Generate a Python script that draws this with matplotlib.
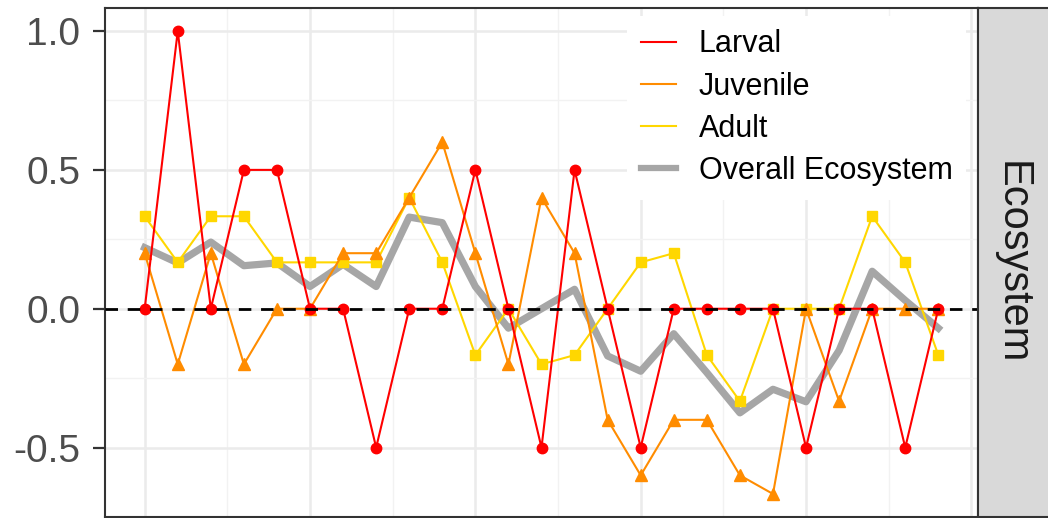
import matplotlib
matplotlib.use("Agg")
import matplotlib.pyplot as plt
from matplotlib.lines import Line2D
from matplotlib.ticker import MultipleLocator

plt.rcParams["font.family"] = ["Liberation Sans", "DejaVu Sans"]

# time steps and standardized change per life stage
steps = list(range(25))
larval = [0, 1, 0, 0.5, 0.5, 0, 0, -0.5, 0, 0, 0.5, 0, -0.5, 0.5, 0,
          -0.5, 0, 0, 0, 0, -0.5, 0, 0, -0.5, 0]
juvenile = [0.2, -0.2, 0.2, -0.2, 0, 0, 0.2, 0.2, 0.4, 0.6, 0.2, -0.2, 0.4, 0.2,
            -0.4, -0.6, -0.4, -0.4, -0.6, -0.667, 0, -0.333, 0, 0, 0]
adult = [0.333, 0.167, 0.333, 0.333, 0.167, 0.167, 0.167, 0.167, 0.4, 0.167,
         -0.167, 0, -0.2, -0.167, 0, 0.167, 0.2, -0.167, -0.333, 0, 0, 0,
         0.333, 0.167, -0.167]
overall = [0.22, 0.165, 0.24, 0.155, 0.165, 0.08, 0.16, 0.08, 0.33, 0.31, 0.08,
           -0.07, 0.0, 0.07, -0.17, -0.225, -0.09, -0.23, -0.375, -0.29, -0.335,
           -0.15, 0.135, 0.03, -0.07]
y_ticks = [-0.5, 0.0, 0.5, 1.0]
strip_label = "Ecosystem"

RED, ORANGE, GOLD, GREY = "#FF0000", "#FF8C00", "#FFD700", "#A6A6A6"

fig = plt.figure(figsize=(10.48, 5.18), dpi=100)
ax = fig.add_axes([105 / 1048, 1 / 518, 873 / 1048, 509 / 518])

ax.plot(steps, overall, color=GREY, lw=5.2, zorder=2)
ax.plot(steps, adult, color=GOLD, lw=1.5, marker="s", ms=7.5, zorder=3)
ax.plot(steps, juvenile, color=ORANGE, lw=1.5, marker="^", ms=8.5, zorder=3.1)
ax.plot(steps, larval, color=RED, lw=1.5, marker="o", ms=7.5, zorder=3.2)
ax.axhline(0, color="black", lw=2, ls=(0, (4.5, 3.5)), zorder=4)

ax.set_xlim(-1.2, 25.2)
ax.set_ylim(-0.75, 1.083)
ax.xaxis.set_major_locator(MultipleLocator(5))
ax.xaxis.set_minor_locator(MultipleLocator(2.5))
ax.yaxis.set_minor_locator(MultipleLocator(0.25))
ax.set_yticks(y_ticks)
ax.set_yticklabels([f"{v:.1f}" for v in y_ticks])
ax.tick_params(axis="x", which="both", bottom=False, labelbottom=False)
ax.tick_params(axis="y", which="major", length=9, width=1.6, color="#333333",
               labelsize=28, labelcolor="#4D4D4D", pad=9)
ax.tick_params(axis="y", which="minor", left=False)
ax.grid(which="major", color="#EBEBEB", lw=1.8, zorder=0)
ax.grid(which="minor", color="#F2F2F2", lw=1.0, zorder=0)
ax.set_axisbelow(True)
for sp in ax.spines.values():
    sp.set_color("#333333")
    sp.set_linewidth(1.5)

handles = [
    Line2D([], [], color=RED, lw=1.5),
    Line2D([], [], color=ORANGE, lw=1.5),
    Line2D([], [], color=GOLD, lw=1.5),
    Line2D([], [], color=GREY, lw=4.5),
]
leg = ax.legend(handles, ["Larval", "Juvenile", "Adult", "Overall Ecosystem"],
                loc="upper left", bbox_to_anchor=(0.598, 0.985), borderaxespad=0,
                fontsize=22, frameon=True, fancybox=False, edgecolor="none",
                facecolor="white", framealpha=1, handlelength=1.15,
                handletextpad=0.75, labelspacing=0.4, borderpad=0.45)
leg.set_zorder(6)

# facet strip on the right
strip = fig.add_axes([978 / 1048, 1 / 518, 80 / 1048, 509 / 518])
strip.set_facecolor("#D9D9D9")
strip.set_xticks([])
strip.set_yticks([])
for sp in strip.spines.values():
    sp.set_color("#333333")
    sp.set_linewidth(1.5)
fig.text(1012 / 1048, 1 - 263 / 518, strip_label, rotation=-90, fontsize=30,
         color="#1A1A1A", ha="center", va="center")

fig.savefig("out.png", dpi=100)
